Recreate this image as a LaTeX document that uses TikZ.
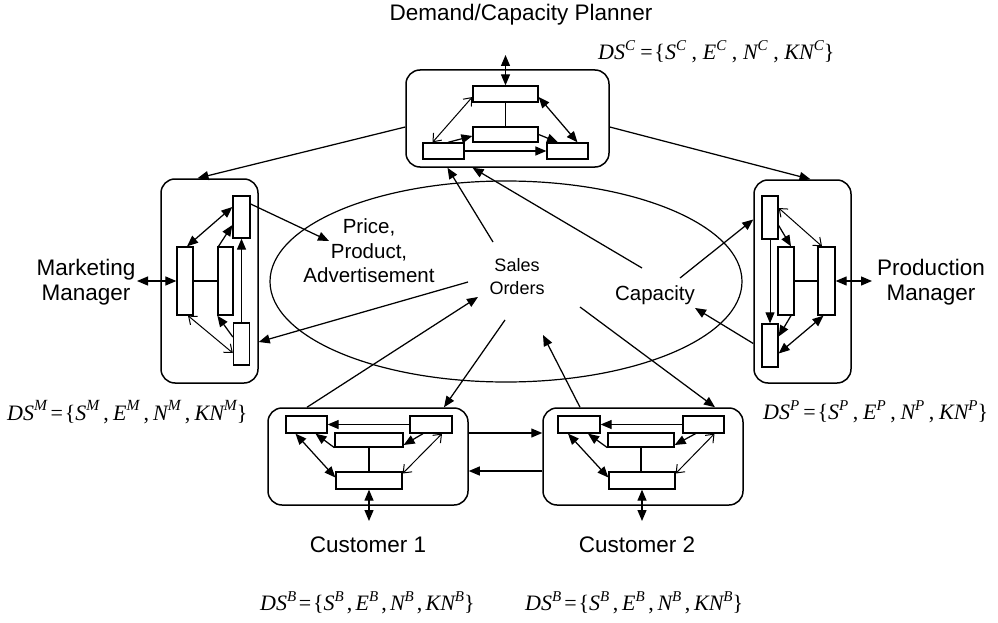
\documentclass[tikz,border=0pt]{standalone}
\usepackage{fontspec}
\setmainfont{Liberation Sans}
\newfontfamily\tms{Liberation Serif}
\usetikzlibrary{arrows.meta,calc,shapes.geometric}
% decision-support set  DS^X = {S^X, E^X, N^X, KN^X}
% #1 = superscript letter, #2 = main size, #3 = superscript size, #4 = extra gap (pt)
\newcommand\supr[2]{\raisebox{0.42em}{\fontsize{#2}{#2}\selectfont #1}}
\newcommand\dsset[4]{{\fontsize{#2}{#2}\selectfont\tms
  \textit{DS\supr{#1}{#3}}\hspace{\dimexpr0.1em+#4pt}=\hspace{0.08em}\{%
  \textit{S\supr{#1}{#3}}\hspace{\dimexpr0.12em+#4pt},\hspace{\dimexpr0.12em+#4pt}%
  \textit{E\supr{#1}{#3}}\hspace{\dimexpr0.12em+#4pt},\hspace{\dimexpr0.12em+#4pt}%
  \textit{N\supr{#1}{#3}}\hspace{\dimexpr0.12em+#4pt},\hspace{\dimexpr0.12em+#4pt}%
  \textit{KN\supr{#1}{#3}}\}}}
\begin{document}
\begin{tikzpicture}[x=1pt,y=-1pt,
  agent/.style={draw,line width=1.5pt,rounded corners=14pt,inner sep=0pt},
  blk/.style={draw,line width=1.3pt,inner sep=0pt,fill=white},
  lnk/.style={line width=1.25pt},
  fwd/.style={lnk,-{Triangle[length=11pt,width=9pt]}},
  dbl/.style={lnk,{Triangle[length=11pt,width=9pt]}-{Triangle[length=11pt,width=9pt]}},
  dblopen/.style={line width=1pt,{Straight Barb[length=7pt,width=11pt]}-{Straight Barb[length=7pt,width=11pt]}},
  lbl/.style={font=\fontsize{22.5}{24.5}\selectfont,align=center,inner sep=0pt},
  inlbl/.style={font=\fontsize{20.5}{24.5}\selectfont,align=center,inner sep=0pt},
  small/.style={font=\fontsize{18}{23}\selectfont,align=center,inner sep=0pt},
  frm/.style={inner sep=0pt,anchor=west}
]
\path[use as bounding box] (0,0) rectangle (998,623);

% shared information space
\node[ellipse,draw,line width=1.2pt,minimum width=472,minimum height=201,inner sep=0pt] (ell) at (506,281.5) {};

% ---------- Demand/Capacity Planner ----------
\node[agent,minimum width=203,minimum height=97] (plan) at (507.5,118.5) {};
\node[blk,minimum width=65,minimum height=16] (pt) at (505.5,94) {};
\node[blk,minimum width=65,minimum height=15] (pm) at (505.5,134.5) {};
\node[blk,minimum width=41,minimum height=16] (pl) at (443.5,151) {};
\node[blk,minimum width=41,minimum height=16] (pr) at (567.5,151) {};
\coordinate (planio) at (505.5,55);
\draw[lnk] (pt.south) -- (pm.north);
\draw[dbl] (planio) -- (pt.north);
\draw[dblopen] ($(pt.west)+(0,3)$) -- ($(pl.north)+(-11,0)$);
\draw[dbl] ($(pt.east)+(0,3)$) -- ($(pr.north)+(10,0)$);
\draw[fwd] ($(pl.north)+(4.5,0)$) -- ($(pm.west)+(0,1.5)$);
\draw[fwd] (pm.east) -- ($(pr.north)+(-9.5,0)$);
\draw[fwd] (pl.east) -- (pr.west);

% ---------- Marketing Manager ----------
\node[agent,minimum width=97,minimum height=204] (mkt) at (209.5,281) {};
\node[blk,minimum width=17,minimum height=42] (ma) at (241.5,217) {};
\node[blk,minimum width=16,minimum height=68] (mb) at (185,281) {};
\node[blk,minimum width=15,minimum height=68] (mc) at (225.5,281) {};
\node[blk,minimum width=16,minimum height=42] (md) at (241.5,344) {};
\coordinate (mktio) at (137,281);
\draw[lnk] (mb.east) -- (mc.west);
\draw[dbl] (mktio) -- (mb.west);
\draw[dbl] ($(ma.west)+(0,-10)$) -- ($(mb.north)+(2,0)$);
\draw[fwd] ($(mc.north)+(-7,0)$) -- ($(ma.west)+(0,8)$);
\draw[fwd] (md.north) -- (ma.south);
\draw[fwd] ($(md.west)+(0,-7)$) -- (mc.south west);
\draw[dblopen] ($(mb.south)+(3,0)$) -- ($(md.west)+(0,9)$);

% ---------- Production Manager ----------
\node[agent,minimum width=97,minimum height=203] (prod) at (802.5,281.5) {};
\node[blk,minimum width=16,minimum height=43] (pa) at (770,217.5) {};
\node[blk,minimum width=16,minimum height=68] (pb) at (786,281) {};
\node[blk,minimum width=17,minimum height=68] (pc) at (826.5,281) {};
\node[blk,minimum width=16,minimum height=43] (pd) at (770,345.5) {};
\coordinate (prodio) at (872,281);
\draw[lnk] (pb.east) -- (pc.west);
\draw[dbl] (pc.east) -- (prodio);
\draw[dblopen] ($(pa.east)+(0,-9.5)$) -- ($(pc.north)+(-4.5,0)$);
\draw[fwd] ($(pa.east)+(0,8)$) -- ($(pb.north)+(5,0)$);
\draw[line width=0.9pt,-{Triangle[length=11pt,width=9pt]}] (pa.south) -- (pd.north);
\draw[fwd] ($(pb.south)+(5,0)$) -- ($(pd.east)+(0,-9)$);
\draw[dbl] ($(pc.south)+(-3,0)$) -- ($(pd.east)+(0,8)$);

% ---------- Customer 1 ----------
\node[agent,minimum width=200,minimum height=97] (cA) at (368,456.5) {};
\node[blk,minimum width=41,minimum height=17] (a1) at (306.5,424.5) {};
\node[blk,minimum width=42,minimum height=17] (a2) at (431,424.5) {};
\node[blk,minimum width=68,minimum height=14] (a3) at (369,440) {};
\node[blk,minimum width=66,minimum height=17] (a4) at (369,480.5) {};
\coordinate (cAio) at (369,521);
\draw[lnk] (a3.south) -- (a4.north);
\draw[fwd] (a2.west) -- (a1.east);
\draw[fwd] (a3.south west) -- ($(a1.south)+(9,0)$);
\draw[fwd] ($(a2.south)+(-8,0)$) -- ($(a3.east)+(0,5)$);
\draw[dbl] ($(a1.south)+(-11,0)$) -- ($(a4.west)+(0,-3)$);
\draw[dblopen] ($(a2.south)+(11,0)$) -- ($(a4.east)+(0,-7)$);
\draw[dbl] (a4.south) -- (cAio);

% ---------- Customer 2 ----------
\node[agent,minimum width=200,minimum height=97] (cB) at (643,456.5) {};
\node[blk,minimum width=42,minimum height=17] (b1) at (579,424.5) {};
\node[blk,minimum width=41,minimum height=17] (b2) at (703.5,424.5) {};
\node[blk,minimum width=66,minimum height=14] (b3) at (641,440) {};
\node[blk,minimum width=66,minimum height=17] (b4) at (642,480.5) {};
\coordinate (cBio) at (642,521);
\draw[lnk] (b3.south) -- (b3.south |- b4.north);
\draw[fwd] (b2.west) -- (b1.east);
\draw[fwd] (b3.south west) -- ($(b1.south)+(9,0)$);
\draw[fwd] ($(b2.south)+(-8,0)$) -- ($(b3.east)+(0,5)$);
\draw[dbl] ($(b1.south)+(-11,0)$) -- ($(b4.west)+(0,-3)$);
\draw[dblopen] ($(b2.south)+(11,0)$) -- ($(b4.east)+(0,-7)$);
\draw[dbl] (b4.south) -- (cBio);

% customer to customer
\draw[fwd] ($(cA.east)+(0,-23.5)$) -- ($(cB.west)+(0,-23.5)$);
\draw[fwd] ($(cB.west)+(0,14.5)$) -- ($(cA.east)+(0,14.5)$);

% ---------- texts in the shared space ----------
\node[inlbl] (price) at (369,251) {Price,\\Product,\\Advertisement};
\node[small] (sales) at (517,277) {Sales\\Orders};
\node[inlbl] (cap) at (655,295) {Capacity};

\coordinate (priceIn) at (329,241);
\coordinate (advOut) at (468,282);
\coordinate (salesUp) at (493,242);
\coordinate (capUp) at (642,268);
\coordinate (capOut) at (680,278);
\coordinate (capIn) at (695,308);
\coordinate (ordIn) at (478,297);
\coordinate (ordOut) at (505,320);
\coordinate (ordIn2) at (543,335);
\coordinate (ordOut2) at (580,307);

% ---------- flows between agents ----------
\draw[fwd] ($(plan.west)+(0,8.5)$) -- ($(mkt.north)+(-12,0)$);
\draw[fwd] ($(plan.east)+(0,8.5)$) -- ($(prod.north)+(8,0)$);
\draw[fwd] ($(ma.east)+(0,-13)$) -- (priceIn);
\draw[fwd] (advOut) -- ($(mkt.east)+(0,61)$);
\draw[fwd] (salesUp) -- ($(plan.south)+(-60,0)$);
\draw[fwd] (capUp) -- ($(plan.south)+(-35,0)$);
\draw[fwd] (capOut) -- ($(prod.west)+(0,-62)$);
\draw[fwd] ($(prod.west)+(0,62)$) -- (capIn);
\draw[fwd] ($(cA.north)+(-61,0)$) -- (ordIn);
\draw[fwd] (ordOut) -- ($(cA.north)+(76,0)$);
\draw[fwd] ($(cB.north)+(-63,0)$) -- (ordIn2);
\draw[fwd] (ordOut2) -- ($(cB.north)+(72,0)$);

% ---------- agent names and decision-support sets ----------
\node[lbl] (tplan) at (521,15) {Demand/Capacity Planner};
\node[lbl] (tmkt) at (86,282) {Marketing\\Manager};
\node[lbl] (tprod) at (931,282) {Production\\Manager};
\node[lbl] (tcA) at (368,545) {Customer 1};
\node[lbl] (tcB) at (637,545) {Customer 2};

\node[frm] (dsC) at (598,52) {\dsset{C}{22}{15}{3}};
\node[frm] (dsM) at (7,412) {\dsset{M}{22}{15.5}{1.5}};
\node[frm] (dsP) at (763,412) {\dsset{P}{22}{15}{2}};
\node[frm] (dsB1) at (260,603) {\dsset{B}{22}{15}{0.5}};
\node[frm] (dsB2) at (525,603) {\dsset{B}{22}{15}{1}};
\end{tikzpicture}
\end{document}
